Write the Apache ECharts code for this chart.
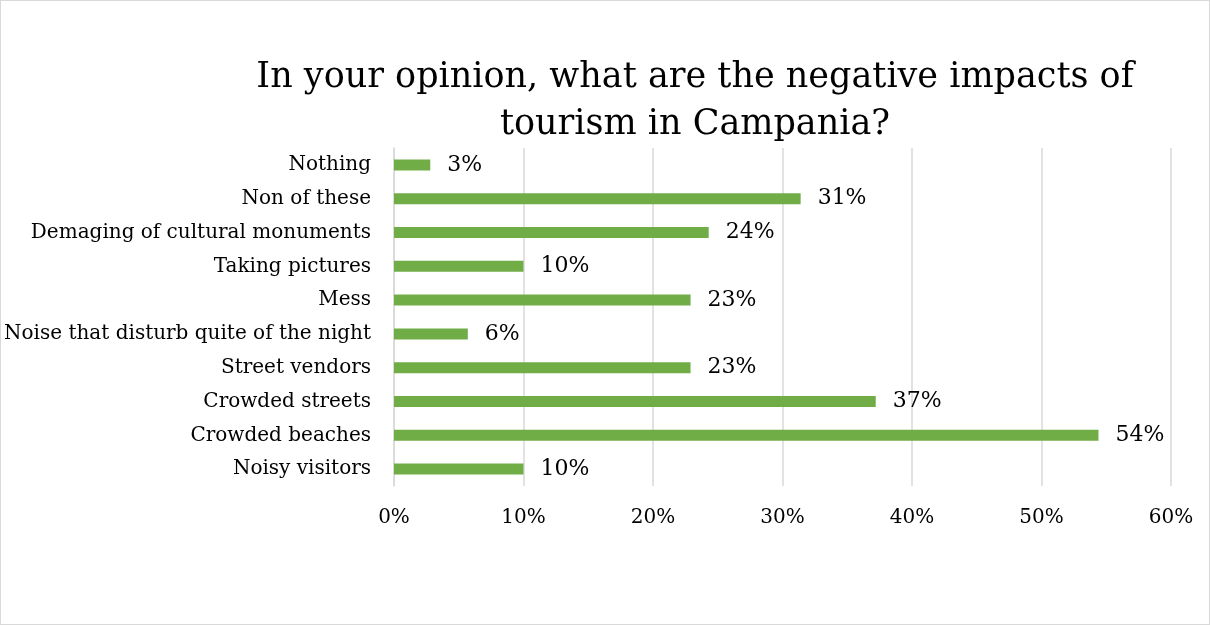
<!DOCTYPE html>
<html>
<head>
<meta charset="utf-8">
<script src="https://cdn.jsdelivr.net/npm/echarts@6/dist/echarts.min.js"></script>
<style>
  html, body { margin: 0; padding: 0; background: #fff; }
  #chart { width: 1210px; height: 625px; box-sizing: border-box; border: 1px solid #d9d9d9; }
</style>
</head>
<body>
<div id="chart"></div>
<script>
// Survey answers, listed top to bottom as drawn
const categories = [
  'Nothing',
  'Non of these',
  'Demaging of cultural monuments',
  'Taking pictures',
  'Mess',
  'Noise that disturb quite of the night',
  'Street vendors',
  'Crowded streets',
  'Crowded beaches',
  'Noisy visitors'
];
// Share of respondents (fraction of 1)
const shares = [0.028, 0.314, 0.243, 0.100, 0.229, 0.057, 0.229, 0.372, 0.544, 0.100];
const axisTicks = [0, 0.1, 0.2, 0.3, 0.4, 0.5, 0.6];
const titleLines = ['In your opinion, what are the negative impacts of', 'tourism in Campania?'];

const FONT = '"DejaVu Serif", "Liberation Serif", serif';
const pct = v => Math.round(v * 100) + '%';

const chart = echarts.init(document.getElementById('chart'), null, { renderer: 'canvas' });
chart.setOption({
  animation: false,
  backgroundColor: '#ffffff',
  graphic: [{
    type: 'text',
    x: 694,
    y: 53,
    style: {
      text: titleLines.join('\n'),
      font: '35px ' + FONT,
      fill: '#000000',
      textAlign: 'center',
      textVerticalAlign: 'top',
      lineHeight: 47
    }
  }],
  grid: { left: 393, right: 38, top: 147, bottom: 138, containLabel: false },
  xAxis: {
    type: 'value',
    min: axisTicks[0],
    max: axisTicks[axisTicks.length - 1],
    interval: 0.1,
    axisLine: { show: false },
    axisTick: { show: false },
    splitLine: { show: true, lineStyle: { color: '#d9d9d9', width: 1.5 } },
    axisLabel: {
      formatter: pct,
      fontFamily: FONT,
      fontSize: 20,
      color: '#000000',
      margin: 22
    }
  },
  yAxis: {
    type: 'category',
    data: categories,
    inverse: true,
    axisLine: { show: true, lineStyle: { color: '#d9d9d9', width: 1.5 } },
    axisTick: { show: false },
    axisLabel: {
      fontFamily: FONT,
      fontSize: 20,
      color: '#000000',
      margin: 23
    }
  },
  series: [{
    type: 'bar',
    data: shares,
    barWidth: 11,
    itemStyle: { color: '#70ad47' },
    label: {
      show: true,
      position: 'right',
      distance: 17,
      formatter: p => pct(p.value),
      fontFamily: FONT,
      fontSize: 22,
      color: '#000000'
    }
  }]
});
</script>
</body>
</html>
